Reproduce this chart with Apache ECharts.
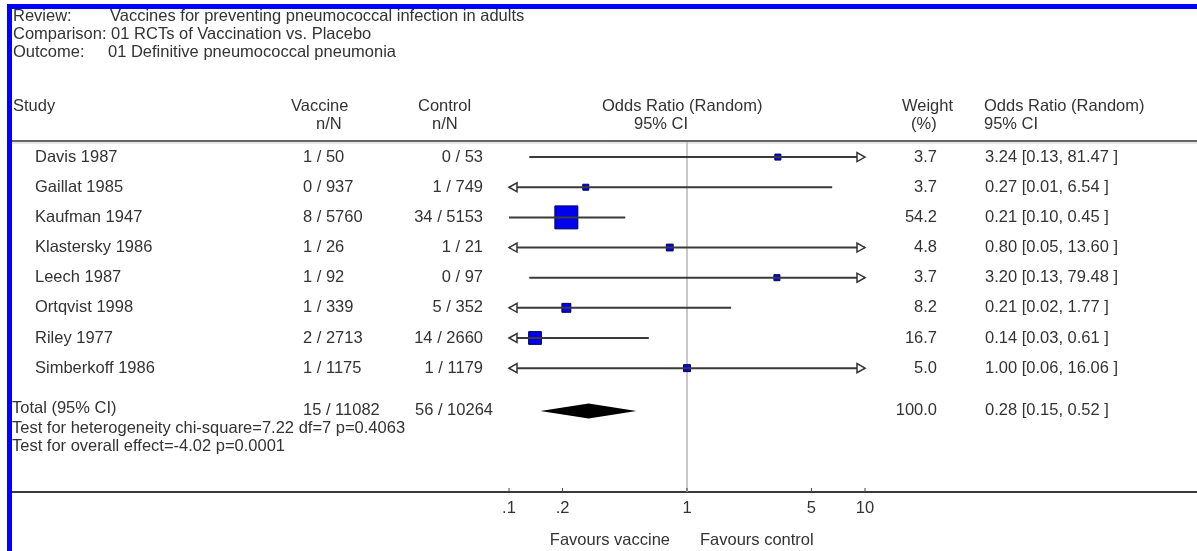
<!DOCTYPE html>
<html><head><meta charset="utf-8">
<script src="https://cdn.jsdelivr.net/npm/echarts@6/dist/echarts.min.js"></script>
<style>html,body{margin:0;padding:0;background:#fff}#c{width:1197px;height:551px}</style>
</head><body><div id="c"></div>
<script>
// ---- data ----
const studies = ['Davis 1987','Gaillat 1985','Kaufman 1947','Klastersky 1986','Leech 1987','Ortqvist 1998','Riley 1977','Simberkoff 1986'];
const vaccineNN = ['1 / 50','0 / 937','8 / 5760','1 / 26','1 / 92','1 / 339','2 / 2713','1 / 1175'];
const controlNN = ['0 / 53','1 / 749','34 / 5153','1 / 21','0 / 97','5 / 352','14 / 2660','1 / 1179'];
const weights = [3.7, 3.7, 54.2, 4.8, 3.7, 8.2, 16.7, 5.0];
const orValues = [3.24, 0.27, 0.21, 0.80, 3.20, 0.21, 0.14, 1.00];
const ciLow = [0.13, 0.01, 0.10, 0.05, 0.13, 0.02, 0.03, 0.06];
const ciHigh = [81.47, 6.54, 0.45, 13.60, 79.48, 1.77, 0.61, 16.06];
const totalLabel = 'Total (95% CI)';
const totalVaccine = '15 / 11082';
const totalControl = '56 / 10264';
const totalWeight = 100.0;
const totalOR = 0.28;
const totalLow = 0.15;
const totalHigh = 0.52;
const tickValues = [0.1, 0.2, 1, 5, 10];
const tickLabels = ['.1', '.2', '1', '5', '10'];
const heterogeneityText = 'Test for heterogeneity chi-square=7.22 df=7 p=0.4063';
const overallText = 'Test for overall effect=-4.02 p=0.0001';

// ---- layout ----
const FONT = '"Liberation Sans", Arial, sans-serif';
const FS = 16.5;
const TXT = '#333';
const X_MIN = 0.1, X_MAX = 10;
const TOTAL_ROW = 8.42;
const Y_MIN = -0.5, Y_MAX = 11.108;

function txt(x, y, s, align) {
  return {type: 'text', x: x, y: y, style: {text: s, fill: TXT, font: FS + 'px ' + FONT, textAlign: align || 'left', textVerticalAlign: 'middle'}};
}
function fmt2(v) { return v.toFixed(2); }

const chart = echarts.init(document.getElementById('c'), null, {renderer: 'canvas'});

function arrowHead(x, y, dir) {
  const L = 8, H = 4.5;
  return {type: 'polygon', shape: {points: [[x, y], [x - dir * L, y - H], [x - dir * L, y + H]]},
    style: {fill: '#fff', stroke: '#333', lineWidth: 1.5}};
}

function renderStudy(params, api) {
  const i = api.value(0);
  const y = api.coord([1, i])[1];
  const lo = Math.max(ciLow[i], X_MIN), hi = Math.min(ciHigh[i], X_MAX);
  const pLo = api.coord([lo, i])[0], pHi = api.coord([hi, i])[0], pM = api.coord([orValues[i], i])[0];
  const s = 3.12 * Math.sqrt(weights[i]);
  const ch = [];
  ch.push({type: 'rect', shape: {x: pM - s / 2, y: y - s / 2, width: s, height: s}, style: {fill: '#0000ee', stroke: '#000050', lineWidth: 1}});
  ch.push({type: 'line', shape: {x1: pLo, y1: y, x2: pHi, y2: y}, style: {stroke: '#3a3a3a', lineWidth: 2}});
  if (ciLow[i] < X_MIN) ch.push(arrowHead(pLo, y, -1));
  if (ciHigh[i] > X_MAX) ch.push(arrowHead(pHi, y, 1));
  ch.push(txt(35, y, studies[i]));
  ch.push(txt(303, y, vaccineNN[i]));
  ch.push(txt(483, y, controlNN[i], 'right'));
  ch.push(txt(937, y, weights[i].toFixed(1), 'right'));
  ch.push(txt(985, y, fmt2(orValues[i]) + ' [' + fmt2(ciLow[i]) + ', ' + fmt2(ciHigh[i]) + ' ]'));
  return {type: 'group', children: ch};
}

function renderTotal(params, api) {
  const y = api.coord([1, TOTAL_ROW])[1];
  const pLo = api.coord([totalLow, TOTAL_ROW])[0], pHi = api.coord([totalHigh, TOTAL_ROW])[0], pM = api.coord([totalOR, TOTAL_ROW])[0];
  const h = 7.5;
  const ch = [];
  ch.push({type: 'polygon', shape: {points: [[pLo, y], [pM, y - h], [pHi, y], [pM, y + h]]}, style: {fill: '#000'}});
  ch.push(txt(12, y - 2, totalLabel));
  ch.push(txt(303, y, totalVaccine));
  ch.push(txt(493, y, totalControl, 'right'));
  ch.push(txt(937, y, totalWeight.toFixed(1), 'right'));
  ch.push(txt(985, y, fmt2(totalOR) + ' [' + fmt2(totalLow) + ', ' + fmt2(totalHigh) + ' ]'));
  return {type: 'group', children: ch};
}

function renderAxis(params, api) {
  const top = api.coord([1, Y_MIN]);
  const bot = api.coord([1, Y_MAX]);
  const ch = [];
  ch.push({type: 'line', shape: {x1: top[0], y1: top[1], x2: bot[0], y2: bot[1]}, style: {stroke: '#c8c8c8', lineWidth: 2}, z2: -1});
  tickValues.forEach(function (v, k) {
    const p = api.coord([v, Y_MAX]);
    ch.push({type: 'line', shape: {x1: p[0], y1: p[1] - 4, x2: p[0], y2: p[1]}, style: {stroke: '#444', lineWidth: 1}});
    ch.push(txt(p[0], p[1] + 16, tickLabels[k], 'center'));
  });
  return {type: 'group', children: ch};
}

const option = {
  backgroundColor: '#fff',
  animation: false,
  grid: {left: 509, right: 332, top: 142, bottom: 59},
  xAxis: {type: 'log', logBase: 10, min: X_MIN, max: X_MAX, show: false},
  yAxis: {type: 'value', inverse: true, min: Y_MIN, max: Y_MAX, show: false},
  series: [
    {type: 'custom', renderItem: renderAxis, data: [[0]], clip: false, silent: true, z: 1},
    {type: 'custom', renderItem: renderStudy, data: studies.map(function (s, i) { return [i]; }), clip: false, silent: true, z: 3},
    {type: 'custom', renderItem: renderTotal, data: [[0]], clip: false, silent: true, z: 3}
  ],
  graphic: [
    {type: 'rect', shape: {x: 7, y: 4, width: 1190, height: 5}, style: {fill: '#0000ff'}},
    {type: 'rect', shape: {x: 7, y: 4, width: 5, height: 547}, style: {fill: '#0000ff'}},
    {type: 'line', shape: {x1: 12, y1: 141, x2: 1197, y2: 141}, style: {stroke: '#666', lineWidth: 2}},
    {type: 'line', shape: {x1: 12, y1: 143, x2: 1197, y2: 143}, style: {stroke: '#d0d0d0', lineWidth: 1}},
    {type: 'line', shape: {x1: 12, y1: 492, x2: 1197, y2: 492}, style: {stroke: '#3a3a3a', lineWidth: 2}},
    txt(13, 16, 'Review:'),
    txt(110, 16, 'Vaccines for preventing pneumococcal infection in adults'),
    txt(13, 34, 'Comparison: 01 RCTs of Vaccination vs. Placebo'),
    txt(13, 52, 'Outcome:'),
    txt(108, 52, '01 Definitive pneumococcal pneumonia'),
    txt(13, 106, 'Study'),
    txt(291, 106, 'Vaccine'),
    txt(316, 124, 'n/N'),
    txt(418, 106, 'Control'),
    txt(432, 124, 'n/N'),
    txt(602, 106, 'Odds Ratio (Random)'),
    txt(634, 124, '95% CI'),
    txt(902, 106, 'Weight'),
    txt(911, 124, '(%)'),
    txt(984, 106, 'Odds Ratio (Random)'),
    txt(984, 124, '95% CI'),
    txt(12, 428, heterogeneityText),
    txt(12, 446, overallText),
    txt(670, 540, 'Favours vaccine', 'right'),
    txt(700, 540, 'Favours control')
  ]
};
chart.setOption(option);
</script>
</body></html>
